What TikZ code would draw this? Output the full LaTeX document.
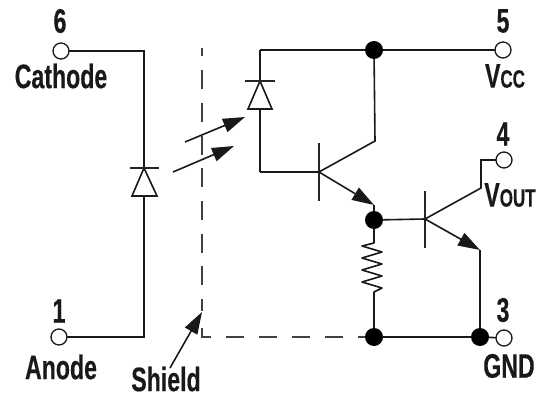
\documentclass[tikz,border=0pt]{standalone}
\usepackage{fontspec}
\setmainfont[FakeStretch=0.68,BoldFeatures={FakeStretch=0.68,FakeBold=0.35}]{Liberation Sans}
\usetikzlibrary{arrows.meta,calc}
\tikzset{
  x=1pt,y=-1pt,
  wire/.style={line width=1.6pt,color=black!90,line join=miter},
  pin/.style={circle,draw=black!90,line width=1.3pt,fill=white,minimum size=16pt,inner sep=0pt},
  junction/.style={circle,fill=black,minimum size=18pt,inner sep=0pt},
  lbl/.style={font=\fontsize{34}{34}\selectfont\bfseries,inner sep=0pt,text=black!90},
  arrowline/.style={wire,-{Triangle[length=22pt,width=14pt]}},
  shieldv/.style={line width=1.5pt,color=black!75,dash pattern=on 19pt off 13.7pt,dash phase=10.5pt},
  shieldh/.style={line width=1.5pt,color=black!75,dash pattern=on 18pt off 15pt},
  barline/.style={line width=1.6pt,color=black!85},
}
\newcommand{\smc}[1]{{\fontsize{25}{25}\selectfont\bfseries #1}}
\begin{document}
\begin{tikzpicture}
\useasboundingbox (0,0) rectangle (540,398);
% corners and ends
\coordinate (c6) at (144,51);
\coordinate (c1) at (144,337);
\coordinate (dLa) at (144,168);
\coordinate (dLb) at (144,196);
\coordinate (dLl) at (132,196);
\coordinate (dLr) at (157,196);
\coordinate (bLl) at (130,168);
\coordinate (bLr) at (159,168);
\coordinate (top) at (260,50);
\coordinate (dRa) at (260,81);
\coordinate (dRb) at (260,109);
\coordinate (dRl) at (248,109);
\coordinate (dRr) at (272,109);
\coordinate (bRl) at (245,81);
\coordinate (bRr) at (275,81);
\coordinate (bc) at (260,172);
\coordinate (q1b) at (319,172);
\coordinate (q1t) at (319,143);
\coordinate (q1u) at (319,201);
\coordinate (q1c) at (375,141);
\coordinate (q1e) at (374,205);
\coordinate (q2b) at (425,219);
\coordinate (q2t) at (425,191);
\coordinate (q2u) at (425,248);
\coordinate (q2c) at (481,188);
\coordinate (q2k) at (481,160);
\coordinate (q2e) at (480,250);
\coordinate (sTop) at (202,48);
\coordinate (sMid) at (202,311);
\coordinate (sLow) at (202,328);
\coordinate (sBot) at (202,337);
\coordinate (sEnd) at (366,337);
\coordinate (sTip) at (202,312);
\coordinate (sTail) at (170,368);
\coordinate (a1s) at (185,142);
\coordinate (a1e) at (245,117);
\coordinate (a2s) at (173,172);
\coordinate (a2e) at (234,146);
% shield
\draw[shieldv] (sTop) -- (sMid);
\draw[shieldh] (sLow) -- (sBot) -- (sEnd);
% wires
\draw[wire] (61,51) coordinate (p6c) -- (c6) -- (dLa);
\draw[wire] (dLb) -- (c1) -- (59,337) coordinate (p1c);
\draw[wire] (dLa) -- (dLl) -- (dLr) -- cycle;
\draw[barline] (bLl) -- (bLr);
\draw[wire] (bc) -- (dRb);
\draw[wire] (dRa) -- (top);
\draw[wire] (top) -- (503,50) coordinate (p5c);
\draw[wire] (dRa) -- (dRl) -- (dRr) -- cycle;
\draw[barline] (bRl) -- (bRr);
\draw[wire] (q1b) -- (bc);
\draw[barline] (q1t) -- (q1u);
\draw[wire] (374,50) coordinate (j5c) -- (q1c) -- (q1b);
\draw[arrowline] (q1b) -- (q1e);
\draw[wire] (q1e) -- (374,220) coordinate (jmc);
\draw[wire] (jmc) -- (q2b);
\draw[barline] (q2t) -- (q2u);
\draw[wire] (504,160) coordinate (p4c) -- (q2k) -- (q2c) -- (q2b);
\draw[arrowline] (q2b) -- (q2e);
\draw[wire] (q2e) -- (480,337) coordinate (j3c);
\draw[wire,line join=round] (jmc) -- (374,243) -- (362,246) -- (382,252) -- (362,258) -- (382,264) -- (362,270) -- (382,276) -- (362,282) -- (382,288) -- (374,292) -- (374,337) coordinate (jbc);
\draw[wire] (jbc) -- (j3c) -- (504,338) coordinate (p3c);
% optical arrows and shield pointer
\draw[arrowline] (a1s) -- (a1e);
\draw[arrowline] (a2s) -- (a2e);
\draw[arrowline] (sTail) -- (sTip);
% pins and junctions
\node[pin] (p6) at (p6c) {};
\node[pin] (p1) at (p1c) {};
\node[pin] (p5) at (p5c) {};
\node[pin] (p4) at (p4c) {};
\node[pin] (p3) at (p3c) {};
\node[junction] (j5) at (j5c) {};
\node[junction] (jm) at (jmc) {};
\node[junction] (jb) at (jbc) {};
\node[junction] (j3) at (j3c) {};
% labels
\node[lbl] (t6) at (60,21) {6};
\node[lbl] (tc) at (61,76) {Cathode};
\node[lbl] (t1) at (59,311) {1};
\node[lbl] (ta) at (61,367) {Anode};
\node[lbl] (ts) at (166,379) {Shield};
\node[lbl] (t5) at (503,21) {5};
\node[lbl] (tv) at (505,76) {V\smc{CC}};
\node[lbl] (t4) at (503,134) {4};
\node[lbl] (to) at (510,195) {V\smc{OUT}};
\node[lbl] (t3) at (503,310) {3};
\node[lbl] (tg) at (509,366) {GND};
\end{tikzpicture}
\end{document}
